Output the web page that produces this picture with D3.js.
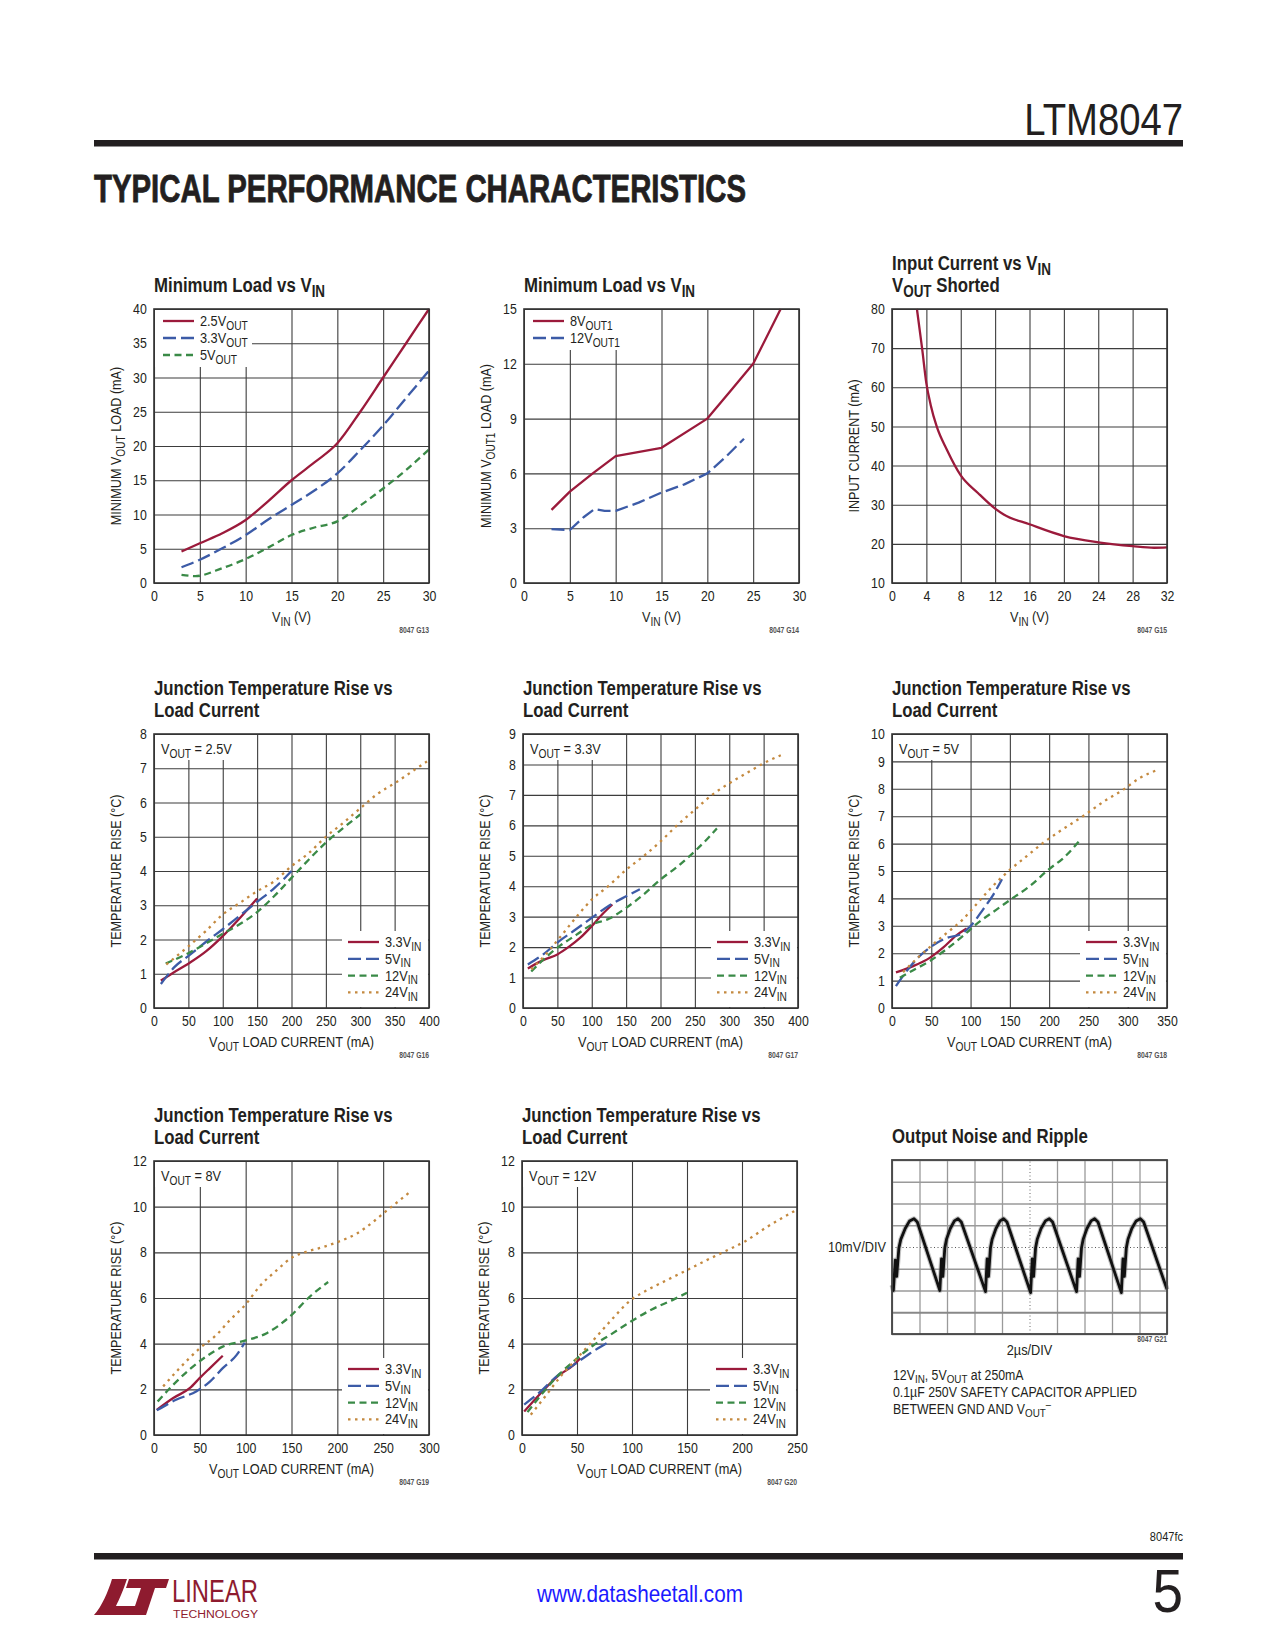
<!DOCTYPE html>
<html>
<head>
<meta charset="utf-8">
<script src="https://cdn.jsdelivr.net/npm/d3@7/dist/d3.min.js"></script>
<style>
  body { margin: 0; background: #fff; }
  svg text { font-family: "Liberation Sans", Arial, sans-serif; fill: #231f20; }
</style>
</head>
<body>
<svg id="page" width="1275" height="1650"></svg>
<script>
// ---------- data ----------
// G13: minimum load vs VIN  [VIN (V), load (mA)]
var g13_25 = [[3,4.6],[5,5.8],[7.5,7.3],[10,9.2],[12.5,12],[15,15],[17.5,17.6],[20,20.4],[22.5,25],[25,30],[27.5,35],[30,40]];
var g13_33 = [[3,2.3],[5,3.4],[7.5,5.1],[10,7],[12.5,9.3],[15,11.4],[17.5,13.5],[20,16],[22.5,19.4],[25,23],[27.5,27],[30,31]];
var g13_5  = [[3,1.2],[4.5,1.0],[7.5,2.2],[10,3.5],[12.5,5.2],[15,7],[17.5,8.1],[20,9],[22.5,11.3],[25,13.8],[27.5,16.5],[30,19.5]];
var g13Names = ["2.5V{OUT}", "3.3V{OUT}", "5V{OUT}"];

// G14: minimum VOUT1 load vs VIN
var g14_8  = [[3,4],[5,5],[7.5,6],[10,6.95],[15,7.4],[20,9],[22.5,10.5],[25,12],[28,15]];
var g14_12 = [[3,2.95],[5,2.9],[6.5,3.6],[7.7,4.05],[8.8,3.95],[10,3.95],[12.5,4.4],[15,4.95],[17.5,5.4],[20,6],[22,6.9],[24,7.9]];
var g14Names = ["8V{OUT1}", "12V{OUT1}"];

// G15: input current vs VIN, VOUT shorted
var g15 = [[2.9,80],[3.5,70],[4,61],[4.5,55.5],[5.2,50],[6.4,44],[8,37.5],[10,33],[12,29],[13,27.5],[16,25],[20,22],[24,20.4],[28,19.4],[30.5,19],[32,19.1]];

// junction temperature rise vs load current [mA, degC]
var tempNames = ["3.3V{IN}", "5V{IN}", "12V{IN}", "24V{IN}"];
var g16_33 = [[10,0.8],[28,1.03],[52,1.32],[76,1.66],[100,2.1],[125,2.63],[150,3.2]];
var g16_5  = [[10,0.7],[30,1.2],[52,1.55],[80,2],[100,2.3],[125,2.7],[150,3.1],[175,3.5],[200,4]];
var g16_12 = [[17,1.3],[50,1.6],[75,1.88],[100,2.17],[125,2.45],[150,2.8],[175,3.27],[200,3.8],[225,4.33],[250,4.83],[275,5.25],[300,5.65]];
var g16_24 = [[18,1.27],[50,1.8],[75,2.24],[100,2.73],[125,3.07],[150,3.41],[175,3.7],[200,4.14],[225,4.52],[250,5],[275,5.4],[300,5.83],[325,6.25],[350,6.56],[375,6.9],[397,7.2]];

var g17_33 = [[7,1.3],[30,1.58],[50,1.76],[68,2.03],[83,2.3],[100,2.69],[115,3.07],[130,3.4]];
var g17_5  = [[7,1.43],[30,1.77],[50,2.15],[73,2.52],[100,2.96],[125,3.36],[150,3.67],[170,3.9]];
var g17_12 = [[12,1.2],[35,1.7],[53,2.03],[78,2.41],[100,2.74],[125,2.93],[150,3.29],[175,3.72],[200,4.22],[225,4.65],[250,5.15],[270,5.6],[282,5.9]];
var g17_24 = [[12,1.27],[35,1.81],[53,2.3],[78,3.0],[100,3.56],[125,4.02],[150,4.54],[175,4.98],[200,5.47],[225,6.02],[250,6.51],[275,7.0],[300,7.38],[325,7.71],[350,8.04],[375,8.3]];

var g18_33 = [[5,1.3],[27,1.53],[48,1.83],[65,2.2],[82,2.65],[95,2.9]];
var g18_5  = [[5,0.8],[22,1.47],[35,1.89],[48,2.2],[70,2.56],[88,2.7],[100,2.99],[116,3.6],[129,4.14],[140,4.7]];
var g18_12 = [[10,1.1],[27,1.38],[48,1.71],[69,2.14],[90,2.62],[107,3.05],[133,3.59],[154,4.02],[175,4.44],[200,5.07],[218,5.47],[240,6.15]];
var g18_24 = [[14,1.31],[35,1.89],[52,2.32],[69,2.72],[90,3.23],[107,3.77],[124,4.32],[148,4.99],[171,5.53],[192,6.02],[213,6.44],[243,7.0],[273,7.6],[294,7.96],[315,8.39],[339,8.7]];

var g19_33 = [[3,1.1],[21,1.62],[39,2.05],[50,2.5],[61,2.93],[75,3.47]];
var g19_5  = [[3,1.08],[24,1.54],[46,1.91],[61,2.34],[75,2.93],[90,3.5],[99,4.05]];
var g19_12 = [[4,1.47],[21,2.2],[39,2.88],[57,3.44],[75,3.87],[100,4.14],[123,4.46],[148,5.18],[170,6.06],[190,6.7]];
var g19_24 = [[10,2.13],[28,2.93],[50,3.8],[68,4.38],[83,5.04],[100,5.72],[115,6.5],[134,7.22],[152,7.81],[166,8.02],[185,8.24],[201,8.46],[221,8.82],[239,9.33],[250,9.7],[268,10.28],[280,10.67]];

var g20_33 = [[2,1.03],[17,1.83],[32,2.56],[47,3.07],[53,3.36]];
var g20_5  = [[2,1.33],[17,1.91],[32,2.59],[47,3.07],[62,3.58],[78,4.05]];
var g20_12 = [[5,1],[20,1.91],[35,2.71],[48.5,3.29],[64,3.9],[80,4.38],[99,4.97],[118,5.5],[138,5.94],[150,6.23]];
var g20_24 = [[8,0.89],[20,1.62],[35,2.56],[50,3.36],[65,4.16],[80,4.97],[99,5.91],[114,6.35],[132,6.79],[150,7.22],[168,7.66],[187,8.1],[202,8.46],[223,9.12],[250,9.87]];

// G21: scope trace, [time (div), level (div from centre)]
var scopeTrace = [[0,-1.75],[0.05,-2.0],[0.12,-0.6],[0.17,-1.35],[0.25,-0.05],[0.32,0.35],[0.48,0.85],[0.64,1.2],[0.8,1.3],[0.92,1.15],
  [1.74,-2.0],[1.8,-0.55],[1.85,-1.35],[1.92,-0.05],[1.98,0.35],[2.12,0.85],[2.27,1.2],[2.4,1.3],[2.52,1.15],
  [3.4,-2.05],[3.46,-0.55],[3.51,-1.35],[3.58,-0.05],[3.64,0.35],[3.78,0.85],[3.93,1.2],[4.06,1.3],[4.18,1.15],
  [5.04,-2.1],[5.1,-0.55],[5.15,-1.35],[5.22,-0.05],[5.28,0.35],[5.42,0.85],[5.58,1.2],[5.72,1.3],[5.84,1.15],
  [6.71,-2.05],[6.77,-0.55],[6.82,-1.35],[6.89,-0.05],[6.95,0.35],[7.09,0.85],[7.24,1.2],[7.37,1.3],[7.49,1.15],
  [8.34,-2.1],[8.4,-0.55],[8.45,-1.35],[8.52,-0.05],[8.58,0.35],[8.72,0.85],[8.88,1.2],[9.03,1.3],[9.15,1.15],
  [10,-1.95]];

// tick values
var ticks30 = [0,5,10,15,20,25,30];
var ticks40 = [0,5,10,15,20,25,30,35,40];
var ticks15 = [0,3,6,9,12,15];
var ticks32 = [0,4,8,12,16,20,24,28,32];
var ticks80 = [10,20,30,40,50,60,70,80];
var ticks400 = [0,50,100,150,200,250,300,350,400];
var ticks350 = [0,50,100,150,200,250,300,350];
var ticks300 = [0,50,100,150,200,250,300];
var ticks250 = [0,50,100,150,200,250];
var ticks8 = [0,1,2,3,4,5,6,7,8];
var ticks9 = [0,1,2,3,4,5,6,7,8,9];
var ticks10 = [0,1,2,3,4,5,6,7,8,9,10];
var ticks12 = [0,2,4,6,8,10,12];
var scopeDivX = [0,1,2,3,4,5,6,7,8,9,10];
var scopeDivY = [-4,-3,-2,-1,0,1,2,3,4];

// ---------- drawing ----------
var svg = d3.select("#page");
var W = 275, H = 274;
var SX = 0.85; // condensed look
var styles = [
  {c: "#9b1a3b", d: null},
  {c: "#3c5ba7", d: "13,5"},
  {c: "#3a8a47", d: "7,4.5"},
  {c: "#c4893f", d: "2.5,4.5"}
];

// text with {subscript} parts
function rich(t, s, fs) {
  var sub = false;
  s.split(/(\{[^}]*\})/).filter(function (p) { return p.length; }).forEach(function (p) {
    if (p[0] == "{") {
      t.append("tspan").attr("dy", fs * 0.24).attr("font-size", fs * 0.8).text(p.slice(1, -1));
      sub = true;
    } else {
      t.append("tspan").attr("dy", sub ? -fs * 0.24 : null).text(p);
      sub = false;
    }
  });
  return t;
}

// condensed text placed at x,y
function label(parent, x, y, s, fs, o) {
  o = o || {};
  var tr = "translate(" + x + "," + y + ")" + (o.rot ? " rotate(" + o.rot + ")" : "") + " scale(" + (o.sx || SX) + ",1)";
  var t = parent.append("text").attr("transform", tr).attr("font-size", fs)
    .attr("text-anchor", o.anchor || "start").attr("font-weight", o.weight || null);
  if (o.fill) t.style("fill", o.fill);
  return rich(t, s, fs);
}

function chart(o) {
  var g = svg.append("g").attr("transform", "translate(" + o.x + "," + o.y + ")");
  var x = d3.scaleLinear().domain(o.xd).range([0, W]);
  var y = d3.scaleLinear().domain(o.yd).range([H, 0]);

  var ax = g.append("g").attr("transform", "translate(0," + H + ")")
    .call(d3.axisBottom(x).tickValues(o.xt).tickSize(-H).tickPadding(7.5).tickFormat(d3.format("d")));
  var ay = g.append("g")
    .call(d3.axisLeft(y).tickValues(o.yt).tickSize(-W).tickPadding(8.5).tickFormat(d3.format("d")));
  [ax, ay].forEach(function (a) {
    a.attr("font-family", null).attr("font-size", 14.5);
    a.select(".domain").remove();
    a.selectAll("line").attr("stroke", "#3d3d3d").attr("stroke-width", 1.1);
    a.selectAll("text").attr("fill", "#231f20").attr("transform", "scale(" + SX + ",1)");
  });

  // legend / note backgrounds over the grid
  var n = o.series.length;
  if (o.legend == "tl") g.append("rect").attr("x", 1).attr("y", 1).attr("width", 97).attr("height", 12 + 17 * (n - 1) + 11).attr("fill", "#fff");
  if (o.legend == "br") g.append("rect").attr("x", W - 87).attr("y", H - 77).attr("width", 86).attr("height", 76).attr("fill", "#fff");
  if (o.note) {
    var bg = g.append("rect").attr("x", 1).attr("y", 1).attr("height", 25).attr("fill", "#fff");
    var nt = label(g, 7, 20, o.note, 15);
    bg.attr("width", nt.node().getComputedTextLength() * SX + 13);
  }

  var line = d3.line().x(function (d) { return x(d[0]); }).y(function (d) { return y(d[1]); })
    .curve(o.linear ? d3.curveLinear : d3.curveMonotoneX);
  o.series.forEach(function (s, i) {
    var st = styles[i];
    g.append("path").attr("d", line(s)).attr("fill", "none").attr("stroke", st.c)
      .attr("stroke-width", 2.3).attr("stroke-dasharray", st.d).attr("stroke-linejoin", "round");
  });

  g.append("rect").attr("width", W).attr("height", H).attr("fill", "none").attr("stroke", "#333").attr("stroke-width", 1.6);

  if (o.names) {
    o.names.forEach(function (nm, i) {
      var st = styles[i];
      var ly = o.legend == "tl" ? 12 + 17 * i : H - 66 + 16.8 * i;
      var lx0 = o.legend == "tl" ? 9 : W - 81;
      g.append("line").attr("x1", lx0).attr("x2", lx0 + 31).attr("y1", ly).attr("y2", ly)
        .attr("stroke", st.c).attr("stroke-width", 2.3).attr("stroke-dasharray", st.d);
      label(g, lx0 + 37, ly + 5, nm, 15);
    });
  }

  // titles and labels
  o.title.forEach(function (t, i) {
    label(g, 0, -17 - 22.5 * (o.title.length - 1 - i), t, 21, {weight: "bold", sx: 0.8});
  });
  label(g, W / 2, H + 39, o.xl, 15, {anchor: "middle"});
  label(g, -33, H / 2, o.yl, 15, {anchor: "middle", rot: -90, sx: 0.84});
  label(g, W, H + 50, o.code, 8.5, {anchor: "end", weight: "bold", fill: "#555", sx: 0.8});
}

var tempTitle = ["Junction Temperature Rise vs", "Load Current"];
var xlLoad = "V{OUT} LOAD CURRENT (mA)", ylTemp = "TEMPERATURE RISE (°C)";

chart({x: 154, y: 309, title: ["Minimum Load vs V{IN}"], xd: [0, 30], xt: ticks30, yd: [0, 40], yt: ticks40,
  xl: "V{IN} (V)", yl: "MINIMUM V{OUT} LOAD (mA)", code: "8047 G13",
  series: [g13_25, g13_33, g13_5], names: g13Names, legend: "tl"});
chart({x: 524, y: 309, title: ["Minimum Load vs V{IN}"], xd: [0, 30], xt: ticks30, yd: [0, 15], yt: ticks15,
  xl: "V{IN} (V)", yl: "MINIMUM V{OUT1} LOAD (mA)", code: "8047 G14", linear: true,
  series: [g14_8, g14_12], names: g14Names, legend: "tl"});
chart({x: 892, y: 309, title: ["Input Current vs V{IN}", "V{OUT} Shorted"], xd: [0, 32], xt: ticks32, yd: [10, 80], yt: ticks80,
  xl: "V{IN} (V)", yl: "INPUT CURRENT (mA)", code: "8047 G15", series: [g15]});
chart({x: 154, y: 734, title: tempTitle, xd: [0, 400], xt: ticks400, yd: [0, 8], yt: ticks8,
  xl: xlLoad, yl: ylTemp, code: "8047 G16", note: "V{OUT} = 2.5V",
  series: [g16_33, g16_5, g16_12, g16_24], names: tempNames, legend: "br"});
chart({x: 523, y: 734, title: tempTitle, xd: [0, 400], xt: ticks400, yd: [0, 9], yt: ticks9,
  xl: xlLoad, yl: ylTemp, code: "8047 G17", note: "V{OUT} = 3.3V",
  series: [g17_33, g17_5, g17_12, g17_24], names: tempNames, legend: "br"});
chart({x: 892, y: 734, title: tempTitle, xd: [0, 350], xt: ticks350, yd: [0, 10], yt: ticks10,
  xl: xlLoad, yl: ylTemp, code: "8047 G18", note: "V{OUT} = 5V",
  series: [g18_33, g18_5, g18_12, g18_24], names: tempNames, legend: "br"});
chart({x: 154, y: 1161, title: tempTitle, xd: [0, 300], xt: ticks300, yd: [0, 12], yt: ticks12,
  xl: xlLoad, yl: ylTemp, code: "8047 G19", note: "V{OUT} = 8V",
  series: [g19_33, g19_5, g19_12, g19_24], names: tempNames, legend: "br"});
chart({x: 522, y: 1161, title: tempTitle, xd: [0, 250], xt: ticks250, yd: [0, 12], yt: ticks12,
  xl: xlLoad, yl: ylTemp, code: "8047 G20", note: "V{OUT} = 12V",
  series: [g20_33, g20_5, g20_12, g20_24], names: tempNames, legend: "br"});

// ---------- G21 scope shot ----------
(function () {
  var SW = 275, SH = 174;
  var g = svg.append("g").attr("transform", "translate(892,1160)");
  var x = d3.scaleLinear().domain([0, 10]).range([0, SW]);
  var y = d3.scaleLinear().domain([-4, 4]).range([SH, 0]);
  var gx = g.append("g").attr("transform", "translate(0," + SH + ")")
    .call(d3.axisBottom(x).tickValues(scopeDivX).tickSize(-SH));
  var gy = g.append("g").call(d3.axisLeft(y).tickValues(scopeDivY).tickSize(-SW));
  [gx, gy].forEach(function (a) {
    a.select(".domain").remove();
    a.selectAll("text").remove();
    a.selectAll("line").attr("stroke", "#9a9a9a").attr("stroke-width", 1.3);
  });
  gx.selectAll(".tick").filter(function (d) { return d == 5; }).select("line")
    .attr("stroke", "#666").attr("stroke-width", 1).attr("stroke-dasharray", "1,2.5");
  gy.selectAll(".tick").filter(function (d) { return d == 0; }).select("line")
    .attr("stroke", "#555").attr("stroke-width", 1).attr("stroke-dasharray", "1,2.5");
  gy.selectAll(".tick").filter(function (d) { return d == -3; }).select("line")
    .attr("stroke", "#888").attr("stroke-width", 2.2);

  var trace = d3.line().x(function (d) { return x(d[0]); }).y(function (d) { return y(d[1]); });
  g.append("path").attr("d", trace(scopeTrace)).attr("fill", "none").attr("stroke", "#777")
    .attr("stroke-width", 5).attr("stroke-linejoin", "round").attr("opacity", 0.45);
  g.append("path").attr("d", trace(scopeTrace)).attr("fill", "none").attr("stroke", "#111")
    .attr("stroke-width", 2.8).attr("stroke-linejoin", "round");
  g.append("rect").attr("width", SW).attr("height", SH).attr("fill", "none").attr("stroke", "#444").attr("stroke-width", 1.8);

  label(g, 0, -17, "Output Noise and Ripple", 21, {weight: "bold", sx: 0.8});
  label(g, -6, y(0) + 5, "10mV/DIV", 15, {anchor: "end"});
  label(g, SW / 2, SH + 21, "2µs/DIV", 15, {anchor: "middle"});
  label(g, SW, SH + 8, "8047 G21", 8.5, {anchor: "end", weight: "bold", fill: "#555", sx: 0.8});
  label(g, 1, SH + 46, "12V{IN}, 5V{OUT} at 250mA", 14.5);
  label(g, 1, SH + 63, "0.1µF 250V SAFETY CAPACITOR APPLIED", 14.5);
  var lt = label(g, 1, SH + 80, "BETWEEN GND AND V{OUT}", 14.5);
  lt.append("tspan").attr("dy", -9).attr("font-size", 11).text("–");
})();

// ---------- page header / footer ----------
label(svg, 1183, 135, "LTM8047", 44, {anchor: "end", sx: 0.87});
svg.append("rect").attr("x", 94).attr("y", 140).attr("width", 1089).attr("height", 6.5).attr("fill", "#231f20");
svg.append("text").attr("x", 94).attr("y", 202).attr("font-size", 39).attr("font-weight", 900)
  .attr("stroke", "#231f20").attr("stroke-width", 0.8)
  .attr("textLength", 652).attr("lengthAdjust", "spacingAndGlyphs").text("TYPICAL PERFORMANCE CHARACTERISTICS");

label(svg, 1183, 1541, "8047fc", 13, {anchor: "end"});
svg.append("rect").attr("x", 94).attr("y", 1553).attr("width", 1089).attr("height", 6.5).attr("fill", "#231f20");
label(svg, 640, 1602, "www.datasheetall.com", 23, {anchor: "middle", fill: "#1a1aff", sx: 0.9});
label(svg, 1183, 1612, "5", 61, {anchor: "end", sx: 0.9});

// Linear Technology logo
var logo = svg.append("g").attr("fill", "#8e1b2f");
logo.append("path").attr("d", "M94,1615 C102,1606 108,1592 112,1579 L127,1579 C123,1591 119,1600 116,1606 L139,1606 L136,1615 Z");
logo.append("path").attr("d", "M129,1579 L169,1579 L166,1588 L155,1588 L146,1615 L132,1615 L141,1588 L126,1588 Z");
svg.append("text").attr("x", 172).attr("y", 1602).attr("font-size", 31).attr("textLength", 86)
  .attr("lengthAdjust", "spacingAndGlyphs").style("fill", "#8e1b2f").text("LINEAR");
svg.append("text").attr("x", 173).attr("y", 1618).attr("font-size", 10).attr("textLength", 85)
  .attr("lengthAdjust", "spacingAndGlyphs").style("fill", "#8e1b2f").text("TECHNOLOGY");
</script>
</body>
</html>
